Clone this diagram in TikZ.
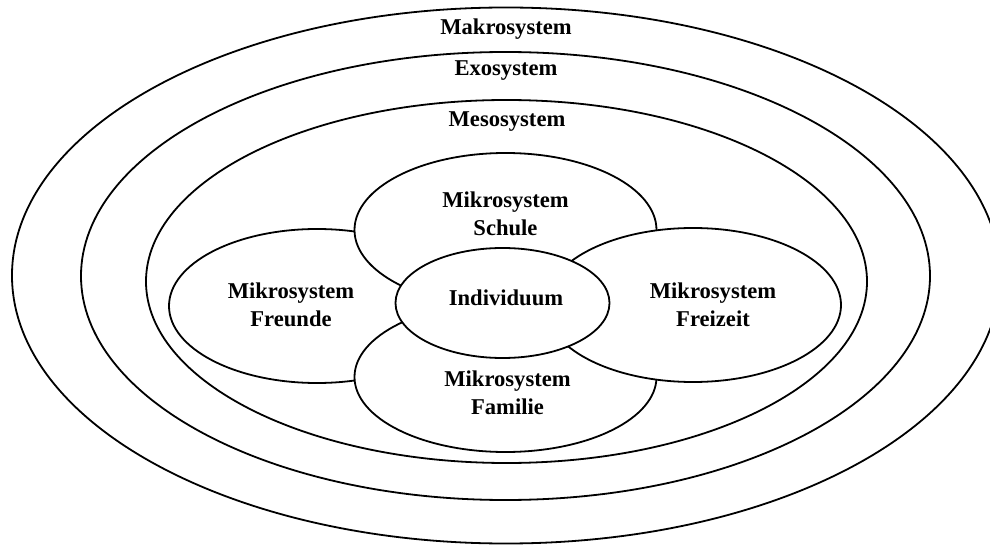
\documentclass[tikz,border=0pt]{standalone}
\usepackage{fontspec}
\setmainfont{Liberation Serif}
\usetikzlibrary{shapes.geometric}
\begin{document}
\begin{tikzpicture}[x=1bp,y=-1bp,
  ring/.style={draw, ellipse, fill=white, line width=1.8bp, inner sep=0pt},
  lbl/.style={font=\bfseries\fontsize{22.6bp}{27.5bp}\selectfont, align=center, inner sep=0pt, anchor=base}]
\useasboundingbox (0,0) rectangle (990,545);
% nested system rings
\node[ring, minimum width=988bp, minimum height=536bp] (makro) at (506,275.5) {};
\node[ring, minimum width=849bp, minimum height=448bp] (exo) at (505.5,276) {};
\node[ring, minimum width=721bp, minimum height=363bp] (meso) at (506.5,281.5) {};
% micro systems, stacked in drawing order
\node[ring, minimum width=296bp, minimum height=154bp] (freunde) at (317,306) {};
\node[ring, minimum width=302bp, minimum height=154bp] (schule) at (505.5,230) {};
\node[ring, minimum width=302bp, minimum height=150bp] (familie) at (505.5,377) {};
\node[ring, minimum width=296bp, minimum height=154bp] (freizeit) at (693,305) {};
\node[ring, minimum width=214bp, minimum height=110bp] (indiv) at (502.5,303) {};
% labels (base anchor sits on the last line)
\node[lbl] (tmakro) at (506,35) {Makrosystem};
\node[lbl] (texo) at (506,76) {Exosystem};
\node[lbl] (tmeso) at (507,127) {Mesosystem};
\node[lbl] (tschule) at (505.5,235.5) {Mikrosystem\\Schule};
\node[lbl] (tindiv) at (506,306) {Individuum};
\node[lbl] (tfreunde) at (291,326.5) {Mikrosystem\\Freunde};
\node[lbl] (tfreizeit) at (713,326.5) {Mikrosystem\\Freizeit};
\node[lbl] (tfamilie) at (507.5,414) {Mikrosystem\\Familie};
\end{tikzpicture}
\end{document}
